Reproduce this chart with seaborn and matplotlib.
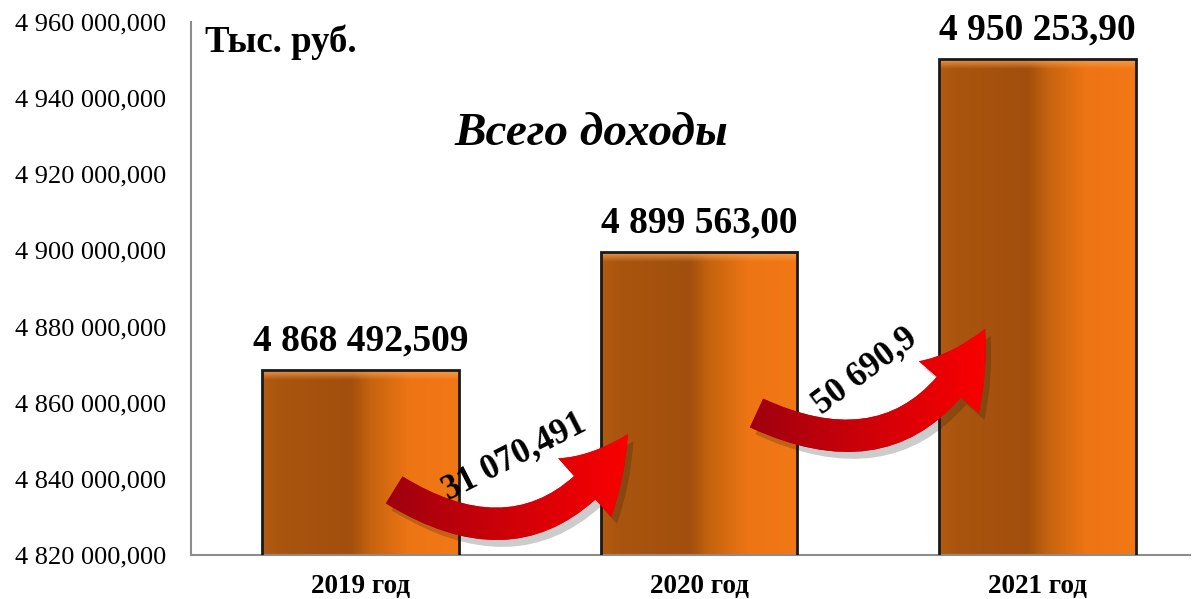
import numpy as np
import pandas as pd
import matplotlib
matplotlib.use("Agg")
import matplotlib.pyplot as plt
import seaborn as sns
from matplotlib.colors import LinearSegmentedColormap, to_rgb
from matplotlib.patches import FancyArrowPatch
from matplotlib.ticker import FuncFormatter, MultipleLocator
import matplotlib.patheffects as pe

# Данные
years = ["2019 год", "2020 год", "2021 год"]
income = [4868492.509, 4899563.00, 4950253.90]
value_labels = ["4 868 492,509", "4 899 563,00", "4 950 253,90"]
growth_labels = ["31 070,491", "50 690,9"]

sns.set_theme(style="white")
plt.rcParams['font.family'] = ['Liberation Serif', 'DejaVu Serif']
plt.rcParams['text.color'] = 'black'
plt.rcParams['xtick.color'] = 'black'
plt.rcParams['ytick.color'] = 'black'

df = pd.DataFrame({"year": years, "income": income})

fig = plt.figure(figsize=(11.96, 5.99), dpi=100)
ax = fig.add_axes([191 / 1196, 44 / 599, 999 / 1196, 533 / 599])

sns.barplot(data=df, x="year", y="income", width=0.58, color="#C8620F",
            edgecolor="#1a1a1a", linewidth=2, ax=ax)

y_min, y_max = 4820000, 4960000

# градиент столбцов
bar_cmap = LinearSegmentedColormap.from_list("bar", [
    (0.0, "#B25A10"), (0.1, "#A9550F"), (0.45, "#A24F0D"),
    (0.55, "#C5630F"), (0.75, "#EE7514"), (1.0, "#F27816")])
grad = bar_cmap(np.linspace(0, 1, 256))[None, :, :3]
top_rgba = np.zeros((32, 1, 4))
top_rgba[..., :3] = to_rgb("#F6A55A")
top_rgba[:, 0, 3] = np.linspace(0.85, 0.0, 32)

for bar in ax.patches:
    x0, w, h = bar.get_x(), bar.get_width(), bar.get_height()
    im = ax.imshow(grad, extent=[x0, x0 + w, y_min, h], aspect="auto", zorder=2)
    im.set_clip_path(bar)
    im2 = ax.imshow(top_rgba, extent=[x0, x0 + w, h - 2600, h], aspect="auto", zorder=2.5)
    im2.set_clip_path(bar)
    bar.set_facecolor("none")
    bar.set_zorder(3)

for i, (v, lab) in enumerate(zip(income, value_labels)):
    ax.annotate(lab, (i, v), xytext=(0, 14), textcoords="offset points",
                ha="center", va="baseline", fontsize=27, fontweight="bold", zorder=6)

# стрелки прироста
arrow_cmap = LinearSegmentedColormap.from_list("arr", ["#9A0010", "#D00008", "#FF0000"])
agrad = arrow_cmap(np.linspace(0, 1, 256))[None, :, :3]
arrows = [((0.10, 4837100), (0.79, 4851700)), ((1.17, 4857300), (1.845, 4879400))]
text_pos = [(0.455, 4845800, 27), (1.49, 4868300, 37)]

for (pa, pb), (tx, ty, rot), lab in zip(arrows, text_pos, growth_labels):
    arr = FancyArrowPatch(pa, pb, connectionstyle="arc3,rad=0.5",
                          arrowstyle="simple,head_length=1.3,head_width=1.5,tail_width=0.6",
                          mutation_scale=38, shrinkA=0, shrinkB=0,
                          facecolor="#E00000", edgecolor="none", zorder=4,
                          path_effects=[pe.SimplePatchShadow(offset=(4, -5), shadow_rgbFace="k", alpha=0.22),
                                        pe.Normal()])
    ax.add_patch(arr)
    im = ax.imshow(agrad, extent=[pa[0] - 0.05, pb[0] + 0.05, pa[1] - 14000, pb[1] + 6000],
                   aspect="auto", zorder=4.5)
    im.set_clip_path(arr)
    ax.text(tx, ty, lab, rotation=rot, ha="center", va="center", fontsize=25,
            fontweight="bold", zorder=6, rotation_mode="anchor")

ax.set_xlim(-0.5, 2.45)
ax.set_ylim(y_min, y_max)
ax.yaxis.set_major_locator(MultipleLocator(20000))
ax.yaxis.set_major_formatter(FuncFormatter(
    lambda v, p: f"{v:,.3f}".replace(",", " ").replace(".", ",")))
ax.tick_params(axis="y", length=0, pad=18, labelsize=19)
ax.tick_params(axis="x", length=0, pad=14, labelsize=19.5)
for t in ax.get_xticklabels():
    t.set_fontweight("bold")
ax.set_xlabel("")
ax.set_ylabel("")
for s in ["top", "right"]:
    ax.spines[s].set_visible(False)
for s in ["left", "bottom"]:
    ax.spines[s].set_color("#8c8c8c")
    ax.spines[s].set_linewidth(1.5)

ax.text(0.014, 0.944, "Тыс. руб.", transform=ax.transAxes, fontsize=26.5,
        fontweight="bold", va="baseline", ha="left")
ax.text(0.401, 0.769, "Всего доходы", transform=ax.transAxes, fontsize=34,
        fontweight="bold", fontstyle="italic", va="baseline", ha="center")

fig.savefig("out.png", dpi=100)
